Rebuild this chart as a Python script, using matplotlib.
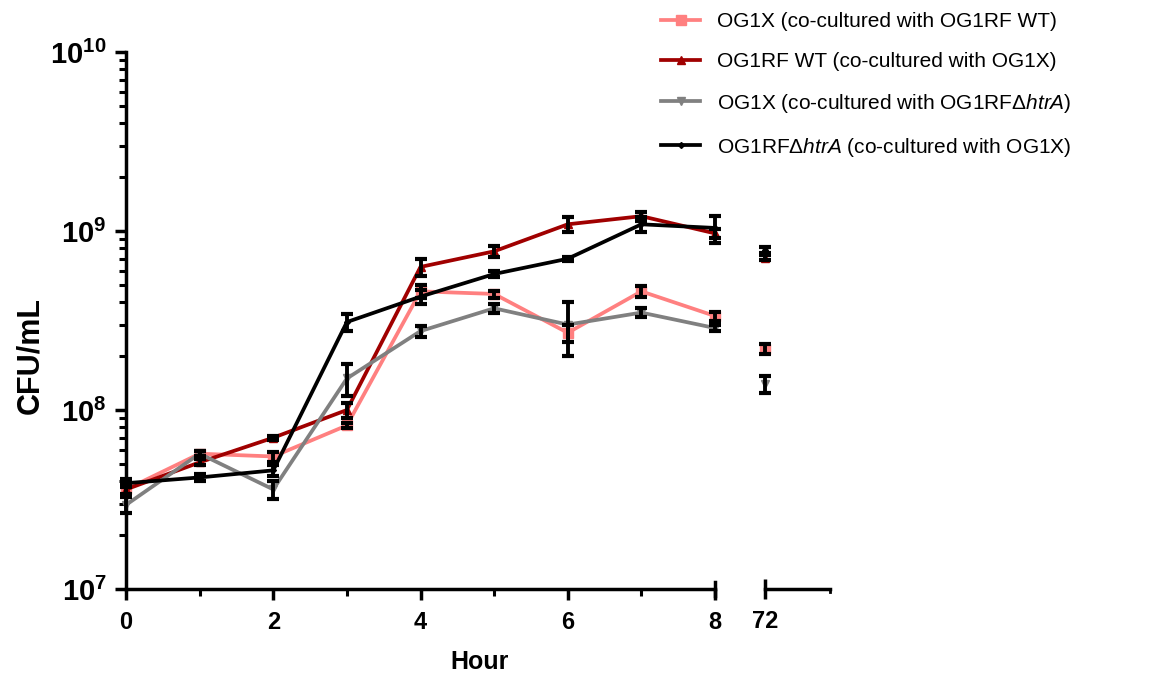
import math
import matplotlib
matplotlib.use('Agg')
import matplotlib.pyplot as plt
from matplotlib.ticker import FixedLocator, LogLocator, FuncFormatter, NullFormatter

plt.rcParams['font.family'] = ['Liberation Sans', 'DejaVu Sans']
plt.rcParams['mathtext.fontset'] = 'custom'
plt.rcParams['mathtext.rm'] = 'Liberation Sans'
plt.rcParams['mathtext.it'] = 'Liberation Sans:italic'
plt.rcParams['mathtext.bf'] = 'Liberation Sans:bold'

hours = [0, 1, 2, 3, 4, 5, 6, 7, 8]
late_hour = 72

labels = ['OG1X (co-cultured with OG1RF WT)',
          'OG1RF WT (co-cultured with OG1X)',
          r'OG1X (co-cultured with OG1RF$\mathit{\Delta htrA}$)',
          r'OG1RF$\mathit{\Delta htrA}$ (co-cultured with OG1X)']

# CFU/mL, hours 0-8 then 72
og1x_wt = [3.6e7, 5.7e7, 5.5e7, 8.2e7, 4.6e8, 4.45e8, 2.7e8, 4.6e8, 3.35e8, 2.2e8]
og1rf_wt = [3.6e7, 5.1e7, 7.0e7, 1.0e8, 6.3e8, 7.7e8, 1.09e9, 1.21e9, 9.7e8, 7.1e8]
og1x_htra = [2.95e7, 5.7e7, 3.6e7, 1.5e8, 2.76e8, 3.7e8, 3.0e8, 3.5e8, 2.87e8, 1.4e8]
og1rf_htra = [3.9e7, 4.2e7, 4.6e7, 3.1e8, 4.3e8, 5.75e8, 7.0e8, 1.09e9, 1.04e9, 7.8e8]

# standard deviations
og1x_wt_sd = [0.3e7, 0.2e7, 0.35e7, 0.3e7, 0.4e8, 0.2e8, 0.3e8, 0.3e8, 0.2e8, 0.15e8]
og1rf_wt_sd = [0.2e7, 0.2e7, 0.2e7, 0.1e8, 0.7e8, 0.5e8, 1.0e8, 0.7e8, 0.6e8, 0.2e8]
og1x_htra_sd = [0.3e7, 0.2e7, 0.4e7, 0.3e8, 0.2e8, 0.2e8, 1.0e8, 0.2e8, 0.1e8, 0.15e8]
og1rf_htra_sd = [0.2e7, 0.2e7, 0.3e7, 0.35e8, 0.4e8, 0.2e8, 0.2e8, 0.1e9, 1.8e8, 0.3e8]

series = [og1x_wt, og1rf_wt, og1x_htra, og1rf_htra]
errors = [og1x_wt_sd, og1rf_wt_sd, og1x_htra_sd, og1rf_htra_sd]
colors = ['#ff8080', '#a00000', '#808080', '#000000']
markers = ['s', '^', 'v', 'D']
msizes = [7, 6, 6, 3]

fig = plt.figure(figsize=(11.5, 6.74), dpi=100)
ax1 = fig.add_axes([126 / 1150, 1 - 589 / 674, (715 - 126) / 1150, (589 - 52) / 674])
ax2 = fig.add_axes([765 / 1150, 1 - 589 / 674, (830 - 765) / 1150, (589 - 52) / 674], sharey=ax1)

handles = []
for vals, sd, c, m, ms, lab in zip(series, errors, colors, markers, msizes, labels):
    h, = ax1.plot(hours, vals[:9], color=c, lw=2.7, marker=m, ms=ms, mec=c, label=lab,
                  clip_on=False, zorder=3)
    ax1.errorbar(hours, vals[:9], yerr=sd[:9], fmt='none', ecolor='black', elinewidth=2.8,
                 capsize=4, capthick=3, clip_on=False, zorder=4)
    ax2.plot([late_hour], [vals[9]], color=c, lw=0, marker=m, ms=ms, mec=c, clip_on=False, zorder=3)
    ax2.errorbar([late_hour], [vals[9]], yerr=[sd[9]], fmt='none', ecolor='black', elinewidth=2.8,
                 capsize=4, capthick=3, clip_on=False, zorder=4)
    handles.append(h)

ax1.set_yscale('log')
ax1.set_ylim(1e7, 1e10)
ax1.set_xlim(0, 8)
ax2.set_xlim(72, 72 + 65 / 73.6)

ax1.yaxis.set_major_locator(LogLocator(base=10, numticks=10))
ax1.yaxis.set_minor_locator(LogLocator(base=10, subs=range(2, 10), numticks=20))
ax1.yaxis.set_minor_formatter(NullFormatter())
ax1.yaxis.set_major_formatter(FuncFormatter(lambda v, p: r'$\mathbf{10^{%d}}$' % round(math.log10(v))))

ax1.xaxis.set_major_locator(FixedLocator([0, 2, 4, 6, 8]))
ax1.xaxis.set_minor_locator(FixedLocator([1, 3, 5, 7]))
ax2.xaxis.set_major_locator(FixedLocator([72]))

for ax in (ax1, ax2):
    ax.spines['top'].set_visible(False)
    ax.spines['right'].set_visible(False)
    for s in ax.spines.values():
        s.set_linewidth(2.5)
    ax.tick_params(which='major', length=8, width=2.5, labelsize=17, pad=8)
    ax.tick_params(which='minor', length=5, width=2.2)
    for t in ax.get_xticklabels() + ax.get_yticklabels():
        t.set_fontweight('bold')

ax1.tick_params(axis='y', which='major', labelsize=21, pad=6)
ax2.spines['left'].set_visible(False)
ax2.tick_params(axis='y', which='both', left=False, labelleft=False)
ax2.tick_params(axis='x', which='major', direction='inout', length=14)

# break marks at the axis ends
ax1.plot([1, 1], [-0.013, 0.013], transform=ax1.transAxes, color='black', lw=2.5, clip_on=False)
ax2.plot([1, 1], [-0.006, 0.0], transform=ax2.transAxes, color='black', lw=2, clip_on=False)

fig.text(30 / 1150, 1 - 355 / 674, 'CFU/mL', rotation=90, ha='center', va='center',
         fontsize=22, fontweight='bold')
fig.text(480 / 1150, 1 - 662 / 674, 'Hour', ha='center', va='center', fontsize=18, fontweight='bold')

fig.legend(handles=handles, loc='upper left', bbox_to_anchor=(642 / 1150, 1.01), frameon=False,
           fontsize=15, handlelength=1.9, labelspacing=1.0, handletextpad=0.8)

fig.savefig('out.png', dpi=100)
